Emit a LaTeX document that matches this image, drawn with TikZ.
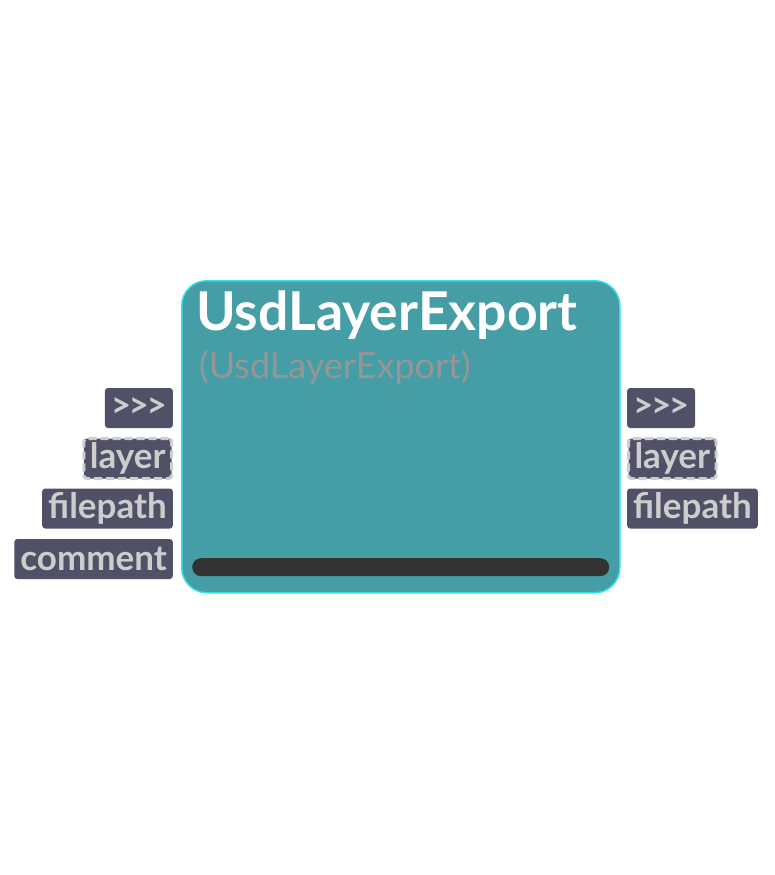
\documentclass[tikz,border=0pt]{standalone}
\usepackage{fontspec}
\setmainfont{Lato}
\usetikzlibrary{positioning}
\definecolor{bodyfill}{RGB}{69,157,165}
\definecolor{bodyline}{RGB}{45,225,235}
\definecolor{portfill}{RGB}{80,80,102}
\definecolor{porttext}{RGB}{205,205,205}
\definecolor{subtext}{RGB}{150,150,150}
\definecolor{barfill}{RGB}{51,51,51}
\newcommand{\execarrows}{>\kern-2.5pt>\kern-2.5pt>}

\begin{document}
\begin{tikzpicture}[x=1pt, y=-1pt,
  port/.style={fill=portfill, text=porttext, rounded corners=3pt, inner xsep=6pt,
    minimum height=40pt, font=\bfseries\fontsize{35}{36}\selectfont, anchor=east},
  portdash/.style={port, draw=porttext, line width=3pt, dash pattern=on 8pt off 4pt}]
  \useasboundingbox (0,0) rectangle (775,875);
  \def\lx{173}
  \def\rx{627}

  % body
  \node [draw=bodyline, line width=1.5pt, fill=bodyfill, rounded corners=25pt, anchor=north west,
    minimum width=438pt, minimum height=312pt] (usd) at (181,280) {};
  \node [anchor=base west, text=white, font=\bfseries\fontsize{53.5}{55}\selectfont, inner sep=0pt]
    (title) at (196,330) {UsdLayerExport};
  \node [anchor=base west, text=subtext, font=\fontsize{36}{38}\selectfont, inner sep=0pt]
    (subtitle) at (199,378) {(UsdLayerExport)};
  \node [fill=barfill, rounded corners=9pt, anchor=north west, inner sep=0pt,
    minimum width=417pt, minimum height=18pt] (bar) at (192,558) {};

  % inputs
  \node [port] (inexec) at (\lx,408) {\execarrows};
  \node [portdash] (inlayer) at (\lx,458.5) {layer};
  \node [port] (infile) at (\lx,508.5) {filepath};
  \node [port] (incomment) at (\lx,559) {comment};

  % outputs
  \node [port, anchor=west] (outexec) at (\rx,408) {\execarrows};
  \node [portdash, anchor=west] (outlayer) at (\rx,458.5) {layer};
  \node [port, anchor=west] (outfile) at (\rx,508.5) {filepath};
\end{tikzpicture}
\end{document}
